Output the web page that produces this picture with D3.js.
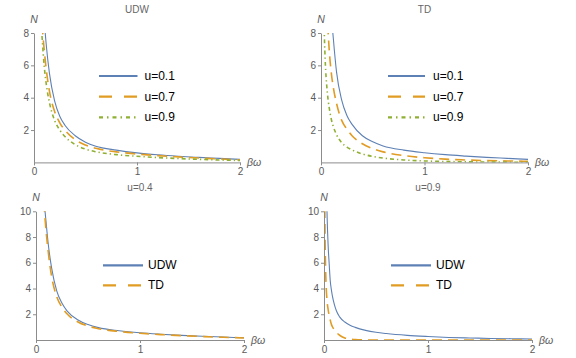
<!DOCTYPE html>
<html><head><meta charset="utf-8">
<script src="https://cdn.jsdelivr.net/npm/d3@7"></script>
<style>body{margin:0;background:#fff}svg{display:block}</style>
</head><body><svg id="c" width="576" height="358"></svg>
<script>
// shared beta*omega grid
const bw = [0.005,0.01,0.015,0.02,0.03,0.04,0.05,0.06,0.07,0.08,0.1,0.12,0.15,0.2,0.25,0.3,0.4,0.5,0.6,0.8,1.0,1.2,1.4,1.6,1.8,2.0];
// panel 1: UDW
const udwU01 = [null,null,null,null,null,null,null,null,null,11.5,8.8,7.2,5.5,3.8,2.85,2.3,1.65,1.25,1.0,0.76,0.59,0.47,0.38,0.31,0.25,0.19];
const udwU07 = [null,null,null,null,null,null,null,11.5,9.8,8.5,6.9,5.7,4.4,3.15,2.45,2.0,1.4,1.07,0.87,0.65,0.52,0.42,0.34,0.27,0.21,0.16];
const udwU09 = [null,null,null,null,null,null,12,10,8.6,7.6,5.9,4.8,3.7,2.6,2.0,1.6,1.1,0.82,0.66,0.48,0.38,0.3,0.24,0.19,0.15,0.12];
// panel 2: TD
const tdU01 = [null,null,null,null,null,null,null,null,null,12,9.2,7.6,5.6,3.85,2.9,2.35,1.65,1.27,1.02,0.76,0.6,0.48,0.39,0.31,0.25,0.19];
const tdU07 = [null,null,null,null,null,null,11.5,9.2,7.9,6.9,5.5,4.6,3.65,2.6,2.05,1.65,1.15,0.85,0.65,0.42,0.29,0.2,0.15,0.11,0.09,0.07];
const tdU09 = [null,null,16,12.5,8.5,6.4,5.2,4.4,3.8,3.35,2.65,2.2,1.72,1.22,0.95,0.77,0.52,0.37,0.27,0.15,0.09,0.055,0.035,0.022,0.014,0.01];
// panel 3: u=0.4
const u04UDW = [null,null,null,null,null,null,null,null,12.4,10.8,8.9,7.3,5.6,3.8,2.85,2.25,1.58,1.2,0.96,0.72,0.56,0.45,0.36,0.29,0.23,0.17];
const u04TD  = [null,null,null,null,null,null,null,13.2,11.5,10.2,8.2,6.7,4.95,3.35,2.55,2.02,1.42,1.08,0.88,0.66,0.52,0.42,0.34,0.27,0.21,0.16];
// panel 4: u=0.9
const u09UDW = [null,null,18,14,9.6,7.3,5.9,4.6,3.95,3.45,2.75,2.25,1.8,1.4,1.15,0.98,0.75,0.6,0.5,0.36,0.27,0.2,0.16,0.12,0.1,0.08];
const u09TD  = [14,8.2,5.6,4.3,3.0,2.35,1.9,1.55,1.25,1.05,0.78,0.58,0.37,0.16,0.07,0.03,0.006,0.001,0,0,0,0,0,0,0,0];

const titles = ["UDW","TD","u=0.4","u=0.9"];
const legendTop = ["u=0.1","u=0.7","u=0.9"];
const legendBottom = ["UDW","TD"];
const xTicks = [0,1,2];
const yTicksTop = [2,4,6,8];
const yTicksBottom = [2,4,6,8,10];

const BLUE="#5e81b5", ORANGE="#e19c24", GREEN="#8fb032";
const styles = [
  {color:BLUE, w:1.1, dash:null, ldash:null},
  {color:ORANGE, w:1.6, dash:"10,6", ldash:"13,12"},
  {color:GREEN, w:1.6, dash:"4,3,1.3,3", ldash:"4,4,1.5,4"}
];

const panels = [
  {x0:34, x2:240, y0:162.4, yt:33, ymax:8, yticks:yTicksTop, title:titles[0],
   series:[udwU01,udwU07,udwU09], legend:legendTop, lx1:99, lx2:137.5, tx:144.5, ly:[76,96.7,117.3]},
  {x0:321, x2:528, y0:162.4, yt:33, ymax:8, yticks:yTicksTop, title:titles[1],
   series:[tdU01,tdU07,tdU09], legend:legendTop, lx1:388, lx2:425, tx:433, ly:[76,96.7,117.3]},
  {x0:36, x2:244, y0:340, yt:211.3, ymax:10, yticks:yTicksBottom, title:titles[2],
   series:[u04UDW,u04TD], legend:legendBottom, lx1:103, lx2:143, tx:148, ly:[265.3,285.3]},
  {x0:324, x2:532, y0:340, yt:211.3, ymax:10, yticks:yTicksBottom, title:titles[3],
   series:[u09UDW,u09TD], legend:legendBottom, lx1:391, lx2:431, tx:436, ly:[265.3,285.3]}
];

const svg = d3.select("#c");
const FONT = "'Liberation Sans', Arial, sans-serif";
const AXC = "#8c8c8c", LBC = "#5a5a5a";

panels.forEach((p,i)=>{
  const x = d3.scaleLinear().domain([0,2]).range([p.x0,p.x2]);
  const y = d3.scaleLinear().domain([0,p.ymax]).range([p.y0,p.yt]);
  const cid = "clip"+i;
  svg.append("clipPath").attr("id",cid).append("rect")
    .attr("x",p.x0).attr("y",p.yt).attr("width",p.x2-p.x0+1).attr("height",p.y0-p.yt);
  const g = svg.append("g");
  const line = d3.line().defined(d=>d[1]!==null).x(d=>x(d[0])).y(d=>y(d[1])).curve(d3.curveMonotoneX);
  p.series.forEach((s,k)=>{
    const st = styles[k];
    g.append("path").attr("clip-path","url(#"+cid+")")
      .attr("d", line(bw.map((b,j)=>[b,s[j]])))
      .attr("fill","none").attr("stroke",st.color).attr("stroke-width",st.w)
      .attr("stroke-dasharray",st.dash);
  });
  // axes
  const ax = g.append("g").attr("transform","translate(0,"+p.y0+")")
    .call(d3.axisBottom(x).tickValues(xTicks).tickFormat(d3.format("d")).tickSize(3).tickSizeOuter(0).tickPadding(3));
  const ay = g.append("g").attr("transform","translate("+p.x0+",0)")
    .call(d3.axisLeft(y).tickValues(p.yticks).tickFormat(d3.format("d")).tickSize(3).tickSizeOuter(0).tickPadding(2));
  [ax,ay].forEach(a=>{
    a.select(".domain").attr("stroke",AXC);
    a.selectAll(".tick line").attr("stroke",AXC);
    a.selectAll(".tick text").attr("fill",LBC).attr("font-family",FONT).attr("font-size",10);
  });
  // axis labels
  g.append("text").attr("x",p.x0).attr("y",p.yt-10).attr("text-anchor","middle")
    .attr("font-family",FONT).attr("font-style","italic").attr("font-size",10.5).attr("fill",LBC).text("N");
  g.append("text").attr("x",p.x2+7).attr("y",p.y0).attr("dominant-baseline","central")
    .attr("font-family",FONT).attr("font-style","italic").attr("font-size",10.5).attr("fill",LBC).text("βω");
  // title
  g.append("text").attr("x",(p.x0+p.x2)/2).attr("y",p.yt-20).attr("text-anchor","middle")
    .attr("font-family",FONT).attr("font-size",10).attr("fill","#666").text(p.title);
  // legend
  p.legend.forEach((lab,k)=>{
    const st = styles[k];
    g.append("line").attr("x1",p.lx1).attr("x2",p.lx2).attr("y1",p.ly[k]).attr("y2",p.ly[k])
      .attr("stroke",st.color).attr("stroke-width",2.2).attr("stroke-dasharray",st.ldash);
    g.append("text").attr("x",p.tx).attr("y",p.ly[k]).attr("dominant-baseline","central")
      .attr("font-family",FONT).attr("font-size",12).attr("fill","#000").text(lab);
  });
});
</script></body></html>
